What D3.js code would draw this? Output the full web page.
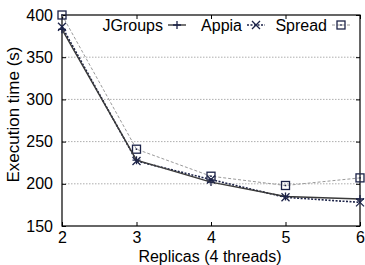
<!DOCTYPE html>
<html>
<head>
<meta charset="utf-8">
<script src="https://cdn.jsdelivr.net/npm/d3@7"></script>
<style>
  body { margin: 0; background: #fff; }
  text { font-family: "Liberation Sans", Arial, sans-serif; fill: #000; }
</style>
</head>
<body>
<div id="chart"></div>
<script>
// data
var replicas = [2, 3, 4, 5, 6];
var jgroups = [383, 228, 202, 185, 182];
var appia = [386, 227, 205, 184, 178];
var spread = [400, 241, 209, 198, 207];
var yTicks = [150, 200, 250, 300, 350, 400];

var svgWidth = 365;
var svgHeight = 265;
var margin = { top: 15, right: 5, bottom: 39, left: 62 };
var width = svgWidth - margin.left - margin.right;
var height = svgHeight - margin.top - margin.bottom;

var svg = d3.select("#chart").append("svg")
  .attr("width", svgWidth)
  .attr("height", svgHeight);

var g = svg.append("g")
  .attr("transform", `translate(${margin.left}, ${margin.top})`);

var x = d3.scaleLinear().domain([2, 6]).range([0, width]);
var y = d3.scaleLinear().domain([150, 400]).range([height, 0]);

// grid lines
g.selectAll(".grid").data(yTicks.filter(d => d > 150 && d < 400)).enter()
  .append("line")
  .attr("x1", 0).attr("x2", width)
  .attr("y1", d => y(d)).attr("y2", d => y(d))
  .attr("stroke", "#999").attr("stroke-width", 0.8)
  .attr("stroke-dasharray", "1.5,1.5");

// axes (ticks pointing inward), with mirrored ticks on top and right
var yAxis = g.append("g").call(d3.axisLeft(y).tickValues(yTicks).tickSizeInner(-4).tickSizeOuter(0).tickPadding(9));
var xAxis = g.append("g").attr("transform", `translate(0, ${height})`)
  .call(d3.axisBottom(x).tickValues(replicas).tickFormat(d3.format("d")).tickSizeInner(-4).tickSizeOuter(0).tickPadding(6));
var yAxisR = g.append("g").attr("transform", `translate(${width}, 0)`)
  .call(d3.axisRight(y).tickValues(yTicks).tickSizeInner(-4).tickSizeOuter(0).tickFormat(""));
var xAxisT = g.append("g")
  .call(d3.axisTop(x).tickValues(replicas).tickSizeInner(-4).tickSizeOuter(0).tickFormat(""));
[yAxis, xAxis, yAxisR, xAxisT].forEach(function(a) {
  a.select(".domain").remove();
  a.selectAll("line").attr("stroke", "#000");
  a.selectAll("text").attr("font-size", 16).attr("fill", "#000")
    .attr("font-family", "Liberation Sans, Arial, sans-serif");
});

// frame
g.append("rect").attr("width", width).attr("height", height)
  .attr("fill", "none").attr("stroke", "#000").attr("stroke-width", 1.2);

var series = [
  { name: "JGroups", values: jgroups, color: "#3a3a3a", dash: null, width: 1.4, marker: "plus" },
  { name: "Appia", values: appia, color: "#1c2348", dash: "2,1.5", width: 1.6, marker: "cross" },
  { name: "Spread", values: spread, color: "#9a9a9a", dash: "3,2", width: 1, marker: "square" }
];

var line = d3.line().x((d, i) => x(replicas[i])).y(d => y(d));

function drawMarker(sel, type, cx, cy) {
  var s = 4;
  var mk = sel.append("g").attr("transform", `translate(${cx}, ${cy})`)
    .attr("stroke", "#1c2348").attr("stroke-width", 1.3).attr("fill", "none");
  if (type === "plus") {
    mk.append("path").attr("d", `M${-s},0H${s}M0,${-s}V${s}`);
  } else if (type === "cross") {
    mk.append("path").attr("d", `M${-s},${-s}L${s},${s}M${-s},${s}L${s},${-s}`);
  } else {
    mk.append("rect").attr("x", -s).attr("y", -s).attr("width", 2 * s).attr("height", 2 * s);
    mk.append("rect").attr("x", -0.8).attr("y", -0.8).attr("width", 1.6).attr("height", 1.6).attr("fill", "#1c2348").attr("stroke", "none");
  }
}

series.slice().reverse().forEach(function(s) {
  g.append("path").datum(s.values)
    .attr("d", line)
    .attr("fill", "none")
    .attr("stroke", s.color)
    .attr("stroke-width", s.width)
    .attr("stroke-dasharray", s.dash);
  s.values.forEach(function(v, i) {
    drawMarker(g, s.marker, x(replicas[i]), y(v));
  });
});

// legend: text right-aligned, then a short line sample with its marker
var legendEnds = [101, 180, 265];
series.forEach(function(s, i) {
  var lx = legendEnds[i];
  g.append("text").attr("x", lx).attr("y", 16)
    .attr("text-anchor", "end").attr("font-size", 16).text(s.name);
  g.append("line").attr("x1", lx + 5).attr("x2", lx + 23).attr("y1", 10).attr("y2", 10)
    .attr("stroke", s.color).attr("stroke-width", s.width).attr("stroke-dasharray", s.dash);
  drawMarker(g, s.marker, lx + 14, 10);
});

// axis titles
svg.append("text")
  .attr("x", margin.left + width / 2 - 1).attr("y", svgHeight - 3)
  .attr("text-anchor", "middle").attr("font-size", 16)
  .text("Replicas (4 threads)");

svg.append("text")
  .attr("transform", `translate(19, ${margin.top + height / 2 - 6}) rotate(-90)`)
  .attr("text-anchor", "middle").attr("font-size", 17)
  .text("Execution time (s)");
</script>
</body>
</html>
